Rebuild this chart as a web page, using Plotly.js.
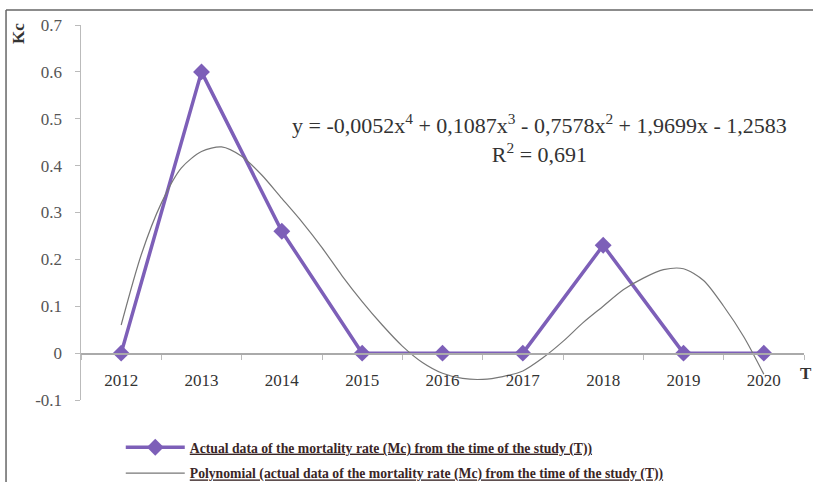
<!DOCTYPE html>
<html>
<head>
<meta charset="utf-8">
<script src="https://cdn.plot.ly/plotly-3.0.1.min.js"></script>
<style>html,body{margin:0;padding:0;background:#fff;}#chart{width:813px;height:482px;}</style>
</head>
<body>
<div id="chart"></div>
<script>
// Categories (years)
var years = ['2012','2013','2014','2015','2016','2017','2018','2019','2020'];
// Actual mortality rate values (Kc)
var actualValues = [0, 0.6, 0.26, 0, 0, 0, 0.23, 0, 0];
// Polynomial trendline, every quarter year
var trendYears = [2012, 2012.25, 2012.5, 2012.75, 2013, 2013.25, 2013.5, 2013.75, 2014, 2014.25, 2014.5, 2014.75, 2015, 2015.25, 2015.5, 2015.75, 2016, 2016.25, 2016.5, 2016.75, 2017, 2017.25, 2017.5, 2017.75, 2018, 2018.25, 2018.5, 2018.75, 2019, 2019.25, 2019.5, 2019.75, 2020];
var trendValues = [0.06, 0.21, 0.32, 0.395, 0.43, 0.44, 0.42, 0.38, 0.33, 0.28, 0.225, 0.165, 0.11, 0.06, 0.015, -0.02, -0.043, -0.054, -0.056, -0.05, -0.038, -0.01, 0.025, 0.065, 0.10, 0.135, 0.16, 0.178, 0.18, 0.155, 0.10, 0.035, -0.045];
var yTicks = [-0.1, 0, 0.1, 0.2, 0.3, 0.4, 0.5, 0.6, 0.7];
var yTickText = ['-0.1', '0', '0.1', '0.2', '0.3', '0.4', '0.5', '0.6', '0.7'];
var seriesNames = [
  'Actual data of the mortality rate (Mc) from the time of the study (T))',
  'Polynomial (actual data of the mortality rate (Mc) from the time of the study (T))'
];
var equationText = 'y = -0,0052x<sup>4</sup> + 0,1087x<sup>3</sup> - 0,7578x<sup>2</sup> + 1,9699x - 1,2583<br>R<sup>2</sup> = 0,691';

var serif = '"Liberation Serif", "Times New Roman", serif';
function legendLabel(s){
  return '<span style="text-decoration:underline;text-decoration-color:#d33;">' + s + '</span>';
}

var traces = [
  {
    x: years, y: actualValues, type: 'scatter', mode: 'lines+markers',
    name: legendLabel(seriesNames[0]), legendgroup: 'a',
    line: {color: '#7d5fb8', width: 3.5},
    marker: {symbol: 'diamond', size: 13, color: '#7d5fb8'},
    xaxis: 'x', yaxis: 'y'
  },
  {
    x: trendYears, y: trendValues, type: 'scatter', mode: 'lines',
    name: legendLabel(seriesNames[1]), legendgroup: 'b',
    line: {color: '#777', width: 1.2, shape: 'spline', smoothing: 0.8},
    xaxis: 'x2', yaxis: 'y'
  }
];

var layout = {
  width: 813, height: 482,
  margin: {l: 81, r: 9, t: 25, b: 82, autoexpand: false},
  paper_bgcolor: '#fff', plot_bgcolor: '#fff',
  showlegend: true,
  legend: {
    x: 0.055, y: -0.085, xanchor: 'left', yanchor: 'top',
    font: {family: serif, size: 13.7, color: '#3a2626', weight: 'bold'},
    tracegroupgap: 5, itemwidth: 59, bgcolor: 'rgba(0,0,0,0)'
  },
  xaxis: {
    type: 'category', range: [-0.5, 8.5],
    anchor: 'free', position: 0.125,
    showline: true, linecolor: '#aaa', linewidth: 1.5,
    ticks: 'outside', tickson: 'boundaries', ticklen: 5, tickcolor: '#bbb',
    tickfont: {family: serif, size: 17, color: '#333'},
    ticklabelstandoff: 11,
    showgrid: false, zeroline: false, fixedrange: true
  },
  xaxis2: {
    type: 'linear', range: [2011.5, 2020.5], overlaying: 'x',
    visible: false, showgrid: false, zeroline: false
  },
  yaxis: {
    range: [-0.1, 0.7], tickvals: yTicks, ticktext: yTickText,
    showline: true, linecolor: '#bbb', linewidth: 1.5,
    ticks: 'outside', ticklen: 5, tickcolor: '#bbb',
    tickfont: {family: serif, size: 17, color: '#555'},
    ticklabelstandoff: 9,
    showgrid: false, zeroline: false
  },
  shapes: [
    {type: 'line', xref: 'paper', yref: 'paper', x0: -0.1037, x1: -0.1037, y0: 1.04, y1: -0.3, line: {color: '#666', width: 1.5}},
    {type: 'line', xref: 'paper', yref: 'paper', x0: -0.1037, x1: 1.1, y0: 1.04, y1: 1.04, line: {color: '#666', width: 1.5}}
  ],
  annotations: [
    {text: equationText, xref: 'paper', yref: 'paper', x: (539-81)/723, y: (400-138)/375,
     xanchor: 'center', yanchor: 'middle', showarrow: false, align: 'center',
     font: {family: serif, size: 22, color: '#333'}},
    {text: '<b>Kc</b>', xref: 'paper', yref: 'paper', x: (18-81)/723, y: (400-34)/375,
     xanchor: 'center', yanchor: 'middle', textangle: -90, showarrow: false,
     font: {family: serif, size: 17, color: '#333'}},
    {text: '<b>T</b>', xref: 'paper', yref: 'paper', x: (806-81)/723, y: (400-373)/375,
     xanchor: 'center', yanchor: 'middle', showarrow: false,
     font: {family: serif, size: 17, color: '#333'}}
  ]
};

Plotly.newPlot('chart', traces, layout, {displayModeBar: false, staticPlot: true});
</script>
</body>
</html>
